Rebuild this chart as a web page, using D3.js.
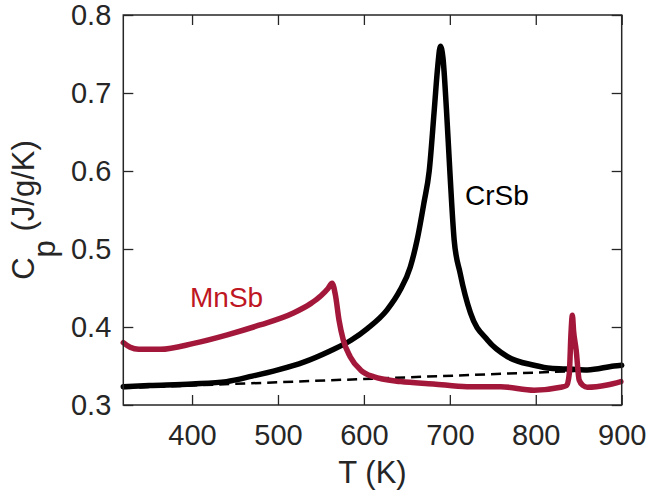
<!DOCTYPE html>
<html><head><meta charset="utf-8">
<script src="https://cdn.jsdelivr.net/npm/d3@7"></script>
<style>body{margin:0;background:#fff}svg{display:block}text{font-family:"Liberation Sans",Arial,Helvetica,sans-serif}</style>
</head><body>
<svg id="c" width="647" height="492"></svg>
<script>
// Data
const crsbT  = [320,350,400,440,470,500,530,560,585,604,627,642,654,662,670,676,682,686,689,692,696,700,705,712,724,744,767,798,817,840,860,891,900];
const crsbCp = [0.3235,0.325,0.327,0.330,0.337,0.345,0.355,0.369,0.383,0.398,0.422,0.447,0.477,0.512,0.56,0.60,0.68,0.735,0.760,0.745,0.68,0.60,0.512,0.469,0.418,0.383,0.362,0.351,0.347,0.346,0.345,0.350,0.351];
const mnsbT  = [320,328,338,363,402,441,479,518,538,550,558,563,567,571,576,584,596,611,643,681,720,759,798,829,836,839,841,842.6,844,847,850.5,855,860,883,899];
const mnsbCp = [0.380,0.374,0.3714,0.3714,0.379,0.390,0.4026,0.418,0.430,0.440,0.449,0.456,0.440,0.409,0.3833,0.362,0.345,0.3363,0.330,0.327,0.3235,0.3235,0.319,0.3227,0.325,0.340,0.392,0.415,0.395,0.3705,0.332,0.325,0.3227,0.3256,0.330];
const baseT  = [320,845];
const baseCp = [0.3217,0.3435];
const xTicks = [400,500,600,700,800,900];
const yTicks = [0.3,0.4,0.5,0.6,0.7,0.8];
const seriesLabels = ["CrSb","MnSb"];

const svg = d3.select("#c");
const L=123.3, R=621.7, T=15, B=405;
const x = d3.scaleLinear().domain([320,900]).range([L,R]);
const y = d3.scaleLinear().domain([0.3,0.8]).range([B,T]);
const axisCol="#262626", fs=29;

const line = (xs,ys,curve)=>d3.line().x((d,i)=>x(xs[i])).y((d,i)=>y(ys[i])).curve(curve)(xs);

// dashed baseline
svg.append("path").attr("d",line(baseT,baseCp,d3.curveLinear)).attr("fill","none")
  .attr("stroke","#000").attr("stroke-width",2.5).attr("stroke-dasharray","10,6");
// CrSb
svg.append("path").attr("d",line(crsbT,crsbCp,d3.curveMonotoneX)).attr("fill","none")
  .attr("stroke","#000").attr("stroke-width",5.5).attr("stroke-linejoin","round").attr("stroke-linecap","round");
// MnSb
svg.append("path").attr("d",line(mnsbT,mnsbCp,d3.curveMonotoneX)).attr("fill","none")
  .attr("stroke","#A3173A").attr("stroke-width",5.5).attr("stroke-linejoin","round").attr("stroke-linecap","round");

// axes
const styleAxis = g=>{g.select(".domain").remove();g.selectAll("line").attr("stroke",axisCol).attr("stroke-width",1.3);
  g.selectAll("text").attr("fill",axisCol).style("font-size",fs+"px");};
svg.append("g").attr("transform",`translate(0,${B})`)
  .call(d3.axisBottom(x).tickValues(xTicks).tickSize(-10).tickPadding(19).tickFormat(d3.format("d"))).call(styleAxis);
svg.append("g").attr("transform",`translate(0,${T})`)
  .call(d3.axisTop(x).tickValues(xTicks).tickSize(-10).tickFormat("")).call(styleAxis);
svg.append("g").attr("transform",`translate(${L},0)`)
  .call(d3.axisLeft(y).tickValues(yTicks).tickSize(-10).tickPadding(12).tickFormat(d3.format(".1f"))).call(styleAxis);
svg.append("g").attr("transform",`translate(${R},0)`)
  .call(d3.axisRight(y).tickValues(yTicks).tickSize(-10).tickFormat("")).call(styleAxis);
svg.append("rect").attr("x",L).attr("y",T).attr("width",R-L).attr("height",B-T)
  .attr("fill","none").attr("stroke",axisCol).attr("stroke-width",1.5);

// axis titles
svg.append("text").attr("x",(L+R)/2).attr("y",483).attr("text-anchor","middle")
  .attr("fill",axisCol).style("font-size","31px").text("T (K)");
const yt = svg.append("text").attr("transform",`translate(34,${(T+B)/2}) rotate(-90)`)
  .attr("text-anchor","middle").attr("fill",axisCol).style("font-size","31px");
yt.append("tspan").text("C");
yt.append("tspan").attr("dy",21).text("p");
yt.append("tspan").attr("dy",-21).text(" (J/g/K)");

// series labels
svg.append("text").attr("x",465).attr("y",205).attr("fill","#000").style("font-size","28px").text(seriesLabels[0]);
svg.append("text").attr("x",190).attr("y",307).attr("fill","#BE1622").style("font-size","28px").text(seriesLabels[1]);
</script>
</body></html>
